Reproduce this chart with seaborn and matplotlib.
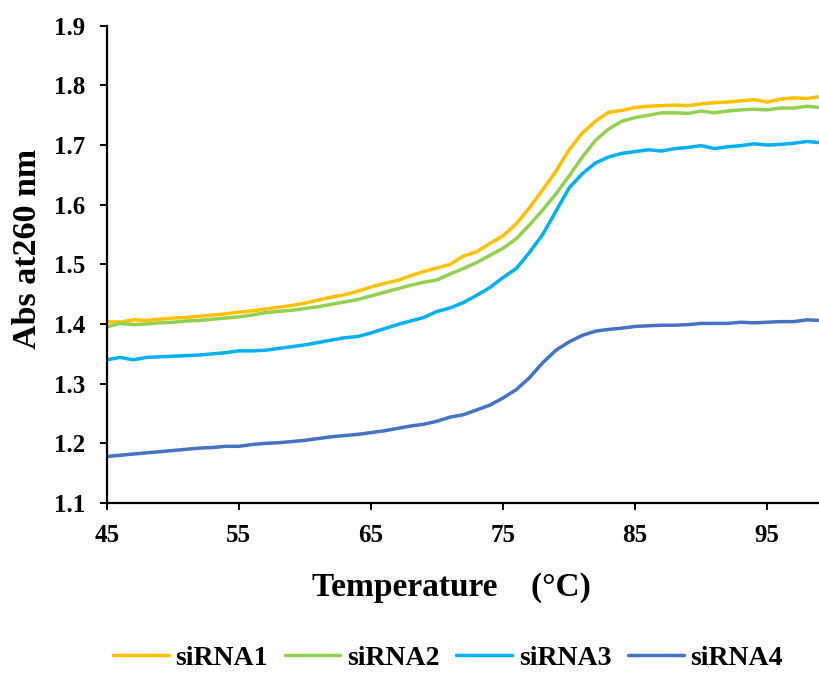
import numpy as np
import pandas as pd
import matplotlib
matplotlib.use("Agg")
import matplotlib.pyplot as plt
import seaborn as sns

# UV melting curves: absorbance at 260 nm versus temperature
temperature = list(range(45, 100))

sirna1 = [1.404, 1.403, 1.407, 1.406, 1.408, 1.410, 1.411, 1.413, 1.415, 1.417,
          1.420, 1.422, 1.425, 1.428, 1.431, 1.435, 1.440, 1.445, 1.449, 1.455,
          1.462, 1.468, 1.473, 1.481, 1.488, 1.494, 1.500, 1.514, 1.521, 1.535,
          1.548, 1.568, 1.595, 1.625, 1.656, 1.692, 1.720, 1.740, 1.755, 1.758,
          1.763, 1.765, 1.766, 1.767, 1.766, 1.769, 1.771, 1.772, 1.774, 1.776,
          1.772, 1.777, 1.779, 1.778, 1.781]

sirna2 = [1.395, 1.401, 1.399, 1.400, 1.402, 1.403, 1.405, 1.406, 1.408, 1.410,
          1.412, 1.415, 1.419, 1.421, 1.423, 1.426, 1.429, 1.433, 1.437, 1.441,
          1.447, 1.453, 1.459, 1.465, 1.470, 1.474, 1.484, 1.493, 1.503, 1.515,
          1.527, 1.543, 1.566, 1.591, 1.618, 1.648, 1.680, 1.708, 1.727, 1.740,
          1.746, 1.750, 1.754, 1.754, 1.753, 1.757, 1.754, 1.757, 1.759, 1.760,
          1.759, 1.762, 1.762, 1.765, 1.763]

sirna3 = [1.340, 1.344, 1.340, 1.344, 1.345, 1.346, 1.347, 1.348, 1.350, 1.352,
          1.355, 1.355, 1.356, 1.359, 1.362, 1.365, 1.369, 1.373, 1.377, 1.379,
          1.385, 1.392, 1.399, 1.405, 1.411, 1.421, 1.427, 1.436, 1.448, 1.461,
          1.478, 1.493, 1.520, 1.550, 1.589, 1.628, 1.652, 1.670, 1.680, 1.686,
          1.689, 1.692, 1.690, 1.694, 1.696, 1.699, 1.694, 1.697, 1.699, 1.702,
          1.700, 1.701, 1.703, 1.706, 1.704]

sirna4 = [1.178, 1.180, 1.182, 1.184, 1.186, 1.188, 1.190, 1.192, 1.193, 1.195,
          1.195, 1.198, 1.200, 1.201, 1.203, 1.205, 1.208, 1.211, 1.213, 1.215,
          1.218, 1.221, 1.225, 1.229, 1.232, 1.237, 1.244, 1.248, 1.256, 1.264,
          1.276, 1.290, 1.310, 1.335, 1.356, 1.370, 1.381, 1.388, 1.391, 1.393,
          1.396, 1.397, 1.398, 1.398, 1.399, 1.401, 1.401, 1.401, 1.403, 1.402,
          1.403, 1.404, 1.404, 1.407, 1.406]

series_names = ["siRNA1", "siRNA2", "siRNA3", "siRNA4"]
series_colors = ["#FFC000", "#92D050", "#00B0F0", "#4472C4"]
x_ticks = [45, 55, 65, 75, 85, 95]
y_ticks = [1.1, 1.2, 1.3, 1.4, 1.5, 1.6, 1.7, 1.8, 1.9]

frames = []
for name, vals in zip(series_names, [sirna1, sirna2, sirna3, sirna4]):
    frames.append(pd.DataFrame({"Temperature": temperature, "Abs": vals, "Sample": name}))
df = pd.concat(frames, ignore_index=True)

sns.set_style("ticks")
plt.rcParams["font.family"] = ["Liberation Serif", "DejaVu Serif"]
plt.rcParams["font.weight"] = "bold"
plt.rcParams["text.color"] = "black"
plt.rcParams["axes.labelcolor"] = "black"
plt.rcParams["xtick.color"] = "black"
plt.rcParams["ytick.color"] = "black"

fig = plt.figure(figsize=(8.19, 6.73), dpi=100)
ax = fig.add_axes([0.1303, 0.2526, 0.871, 0.7092])

sns.lineplot(data=df, x="Temperature", y="Abs", hue="Sample",
             hue_order=series_names, palette=series_colors,
             linewidth=2.5, ax=ax, legend=False)

ax.set_xlim(45, 99)
ax.set_ylim(1.1, 1.9)
ax.set_xticks(x_ticks)
ax.set_yticks(y_ticks)
ax.set_yticklabels([f"{v:.1f}" for v in y_ticks])

for side in ["top", "right"]:
    ax.spines[side].set_visible(False)
for side in ["left", "bottom"]:
    ax.spines[side].set_linewidth(1.6)
    ax.spines[side].set_color("black")

ax.tick_params(axis="both", direction="out", length=5.3, width=1.4,
               colors="black", labelcolor="black", labelsize=18, pad=10)
for lab in ax.get_xticklabels() + ax.get_yticklabels():
    lab.set_fontweight("bold")

ax.set_ylabel("Abs at260 nm", fontsize=24.5, fontweight="bold", va="center",
              color="black")
ax.yaxis.set_label_coords(-0.111, 0.532)
ax.set_xlabel("Temperature\u2002\u2002(°C)", fontsize=24, fontweight="bold",
              va="center", ha="left", color="black")
ax.xaxis.set_label_coords(0.2878, -0.176)

handles = [plt.Line2D([], [], color=c, linewidth=2.5) for c in series_colors]
leg = fig.legend(handles, series_names, loc="center", bbox_to_anchor=(0.547, 0.0223),
                 ncol=4, frameon=False, prop={"size": 20, "weight": "bold"},
                 handlelength=2.0, handletextpad=0.25, columnspacing=0.6)
for t in leg.get_texts():
    t.set_color("black")

fig.savefig("out.png", dpi=100)
